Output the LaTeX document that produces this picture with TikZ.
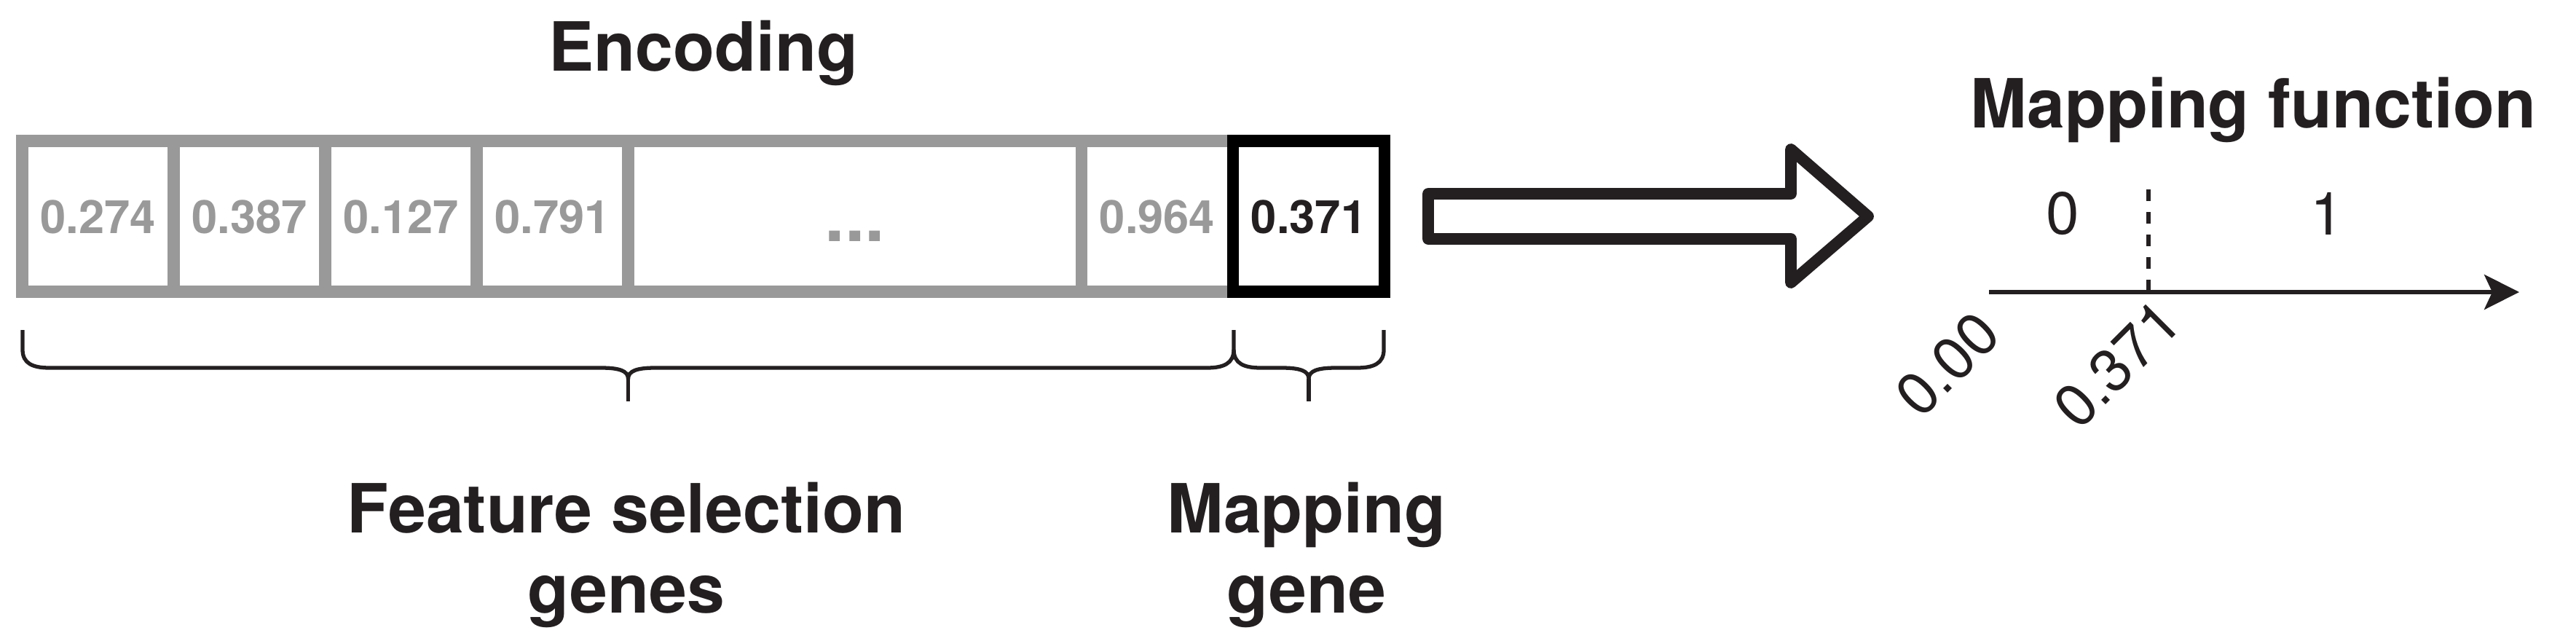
\documentclass[tikz,border=0pt]{standalone}
\usepackage{fontspec}
\setmainfont{TeX Gyre Heros}
\usetikzlibrary{positioning,arrows.meta}

\definecolor{genegray}{HTML}{999999}
\definecolor{ink}{HTML}{231F20}

\tikzset{
  gene/.style={draw=genegray, text=genegray, line width=4.8pt,
    minimum width=2.08cm, minimum height=2.065cm, inner sep=0pt, outer sep=0pt,
    font=\fontsize{18}{20}\selectfont\bfseries, text height=0.46cm, text depth=0pt},
  title/.style={text=ink, font=\fontsize{26.5}{31.3}\selectfont\bfseries,
    align=center, inner sep=0pt},
  axislabel/.style={text=ink, font=\fontsize{23.3}{26}\selectfont, inner sep=0pt},
  curly/.style={draw=ink, line width=1.5pt}
}

\begin{document}
\begin{tikzpicture}
  \useasboundingbox (0,0) rectangle (35.37,8.79);

  % 'encoding'
  \node[title, anchor=base] (enc) at (9.66,7.82) {Encoding};

  \node[gene] (g1) at (1.345,5.82) {0.274};
  \node[gene, right=0pt of g1] (g2) {0.387};
  \node[gene, right=0pt of g2] (g3) {0.127};
  \node[gene, right=0pt of g3] (g4) {0.791};
  \node[gene, right=0pt of g4, minimum width=6.225cm,
    font=\fontsize{28}{30}\selectfont\bfseries, text height=0.68cm] (gdots) {...};
  \node[gene, right=0pt of gdots] (g6) {0.964};
  \node[gene, right=0pt of g6, draw=black, text=ink] (g7) {0.371};

  % 'braces'
  \coordinate (fstip) at (8.625,3.28);
  \coordinate (mgtip) at (17.97,3.28);
  \draw[curly] (0.31,4.26) -- (0.31,3.99)
    .. controls (0.31,3.80) and (0.45,3.74) .. (0.68,3.74) -- (8.255,3.74)
    .. controls (8.50,3.74) and (8.625,3.70) .. (8.625,3.59)
    .. controls (8.625,3.70) and (8.75,3.74) .. (8.995,3.74) -- (16.57,3.74)
    .. controls (16.80,3.74) and (16.94,3.80) .. (16.94,3.99) -- (16.94,4.26);
  \draw[curly] (8.625,3.59) -- (fstip);
  \draw[curly] (16.94,3.99)
    .. controls (16.94,3.80) and (17.08,3.74) .. (17.31,3.74) -- (17.60,3.74)
    .. controls (17.845,3.74) and (17.97,3.70) .. (17.97,3.59)
    .. controls (17.97,3.70) and (18.095,3.74) .. (18.34,3.74) -- (18.63,3.74)
    .. controls (18.86,3.74) and (19.00,3.80) .. (19.00,3.99) -- (19.00,4.26);
  \draw[curly] (17.97,3.59) -- (mgtip);

  % 'labels' (base is the last line)
  \node[title, anchor=base] (fsel) at (8.60,0.38) {Feature selection\\genes};
  \node[title, anchor=base] (mgene) at (17.94,0.38) {Mapping\\gene};

  % 'big arrow'
  \draw[ink, line width=4.5pt, line join=round] (19.61,6.13) -- (24.59,6.13)
    -- (24.59,6.74) -- (25.65,5.82) -- (24.59,4.91) -- (24.59,5.51)
    -- (19.61,5.51) -- cycle;

  % 'mapping function'
  \node[title, anchor=base] (mapfun) at (30.94,7.035) {Mapping function};

  \coordinate (origin) at (27.31,4.78);
  \coordinate (axisend) at (34.59,4.78);
  \coordinate (cut) at (29.50,4.78);
  \coordinate (cuttop) at (29.50,6.19);
  \draw[ink, line width=1.7pt, -{Stealth[length=0.48cm, width=0.48cm, inset=0.11cm]}]
    (origin) -- (axisend);
  \draw[ink, line width=1.9pt, dash pattern=on 0.16cm off 0.15cm] (cuttop) -- (cut);

  \node[axislabel] (zero) at (28.32,5.86) {0};
  \node[axislabel] (one) at (31.95,5.86) {1};
  \node[axislabel, rotate=45] (lo) at (26.74,3.79) {0.00};
  \node[axislabel, rotate=45] (thr) at (29.07,3.79) {0.371};
\end{tikzpicture}
\end{document}
